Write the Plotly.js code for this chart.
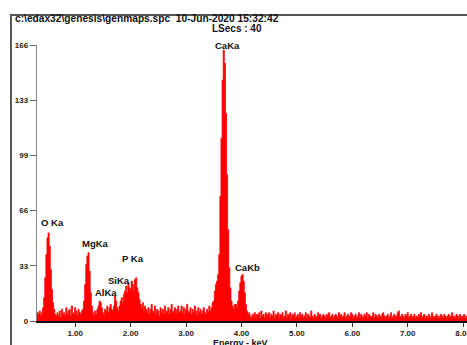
<!DOCTYPE html>
<html>
<head>
<meta charset="utf-8">
<script src="https://cdn.plot.ly/plotly-3.0.1.min.js"></script>
<style>html,body{margin:0;padding:0;background:#fff;}#chart{width:467px;height:345px;}</style>
</head>
<body>
<div id="chart"></div>
<script>
// Energy channels: start 0.30 keV, step 0.02 keV
const energyStart = 0.30;
const energyStep = 0.02;
// Counts per channel
const counts = [
  3,5,4,6,3,5,8,14,26,40,
  50,53,45,31,19,11,7,4,3,5,
  3,6,2,7,4,5,3,8,4,6,
  7,3,9,5,4,8,6,3,7,5,
  4,6,7,12,22,34,39,41,30,17,
  9,5,3,6,4,7,9,12,11,8,
  5,4,7,6,9,5,8,10,7,6,
  9,15,12,8,6,9,12,14,11,16,
  18,21,17,23,20,19,24,22,18,25,
  26,20,17,13,10,8,11,6,9,7,
  5,8,4,7,10,6,5,9,4,7,
  6,3,8,5,7,4,9,6,5,8,
  4,7,10,5,6,8,4,7,9,5,
  6,9,5,8,4,7,10,6,5,8,
  4,7,5,9,6,3,8,5,7,4,
  6,8,5,4,7,5,9,6,8,11,
  12,18,22,24,28,40,75,110,145,163,
  155,125,88,55,32,20,12,9,7,10,
  10,8,12,18,23,27,28,24,17,10,
  6,4,5,3,2,4,3,5,2,4,
  3,5,2,6,3,4,2,5,3,4,
  5,2,4,3,6,2,4,3,5,2,
  4,3,5,2,3,6,2,4,3,5,
  2,4,3,5,2,3,4,2,5,3,
  4,2,3,5,2,4,3,2,6,3,
  2,4,3,2,5,3,4,2,3,4,
  3,2,4,3,5,2,3,4,2,3,
  4,3,2,5,3,4,2,3,5,2,
  3,4,2,3,5,4,2,3,4,2,
  3,5,2,4,3,2,4,3,5,2,
  4,3,2,3,5,2,4,3,2,4,
  3,2,4,5,3,2,3,4,2,3,
  5,2,3,4,2,3,5,6,3,2,
  4,3,2,4,3,5,2,3,4,2,
  3,4,2,3,2,4,3,5,2,3,
  4,2,3,2,4,3,2,5,3,2,
  3,4,2,3,2,4,3,2,4,3,
  2,3,4,2,3,5,2,3,2,4,
  3,2,4,3,2,3,4,2,3,2,
  3
];
const yTickVals = [0, 33.2, 66.4, 99.6, 132.8, 166];
const yTickText = ["0", "33", "66", "99", "133", "166"];
const xTickVals = [1, 2, 3, 4, 5, 6, 7, 8];
const xTickText = ["1.00", "2.00", "3.00", "4.00", "5.00", "6.00", "7.00", "8.00"];
const peakLabels = ["O Ka", "MgKa", "P Ka", "SiKa", "AlKa", "CaKa", "CaKb"];
const headerText = "c:\\edax32\\genesis\\genmaps.spc  10-Jun-2020 15:32:42";
const lsecsText = "LSecs : 40";

const labelPos = [[0.585, 59.5], [1.36, 46.9], [2.05, 37.3], [1.79, 24.1], [1.56, 17.4], [3.74, 166], [4.10, 31.9]];

const FONT = "Liberation Sans, Arial, sans-serif";
const annots = peakLabels.map((t, i) => ({
  x: labelPos[i][0], y: labelPos[i][1], xref: "x", yref: "y",
  text: t, showarrow: false, xanchor: "center", yanchor: "middle",
  font: {family: FONT, size: 9.5, color: "#111", weight: "bold"}
}));
annots.push({x: -0.0558, y: 1.0978, xref: "paper", yref: "paper", text: headerText, showarrow: false,
  xanchor: "left", yanchor: "middle", font: {family: FONT, size: 10.2, color: "#111", weight: "bold"}});
annots.push({x: 0.402, y: 1.058, xref: "paper", yref: "paper", text: lsecsText, showarrow: false,
  xanchor: "left", yanchor: "middle", font: {family: FONT, size: 10, color: "#111", weight: "bold"}});
annots.push({x: 0.474, y: -0.079, xref: "paper", yref: "paper", text: "Energy - keV", showarrow: false,
  xanchor: "center", yanchor: "middle", font: {family: FONT, size: 9, color: "#111", weight: "bold"}});

const trace = {
  type: "scatter", mode: "lines",
  x0: energyStart, dx: energyStep, y: counts,
  line: {color: "#ff0000", width: 0.8, shape: "hvh"},
  fill: "tozeroy", fillcolor: "#ff0000",
  hoverinfo: "skip"
};

const layout = {
  width: 467, height: 345,
  margin: {l: 37, r: 0, t: 45, b: 24, pad: 0},
  paper_bgcolor: "#fff", plot_bgcolor: "#fff",
  showlegend: false,
  xaxis: {
    range: [0.31, 8.07], showgrid: false, zeroline: false,
    showline: true, linecolor: "#111", linewidth: 1.5,
    ticks: "outside", ticklen: 4, tickcolor: "#333", tickwidth: 1,
    tickvals: xTickVals, ticktext: xTickText, ticklabeloverflow: "allow",
    tickfont: {family: FONT, size: 8, color: "#222", weight: "bold"}
  },
  yaxis: {
    range: [0, 166], showgrid: false, zeroline: false,
    showline: true, linecolor: "#888", linewidth: 1.2,
    ticks: "outside", ticklen: 6, tickcolor: "#666", tickwidth: 1,
    tickvals: yTickVals, ticktext: yTickText,
    tickfont: {family: FONT, size: 8, color: "#222", weight: "bold"}
  },
  annotations: annots,
  shapes: [
    {type: "line", xref: "paper", yref: "paper", x0: -0.0605, x1: -0.0605, y0: 1.1087, y1: -0.09, line: {color: "#444", width: 1.8}},
    {type: "line", xref: "paper", yref: "paper", x0: -0.063, x1: 1.0, y0: 1.1087, y1: 1.1087, line: {color: "#555", width: 1.8}}
  ]
};

Plotly.newPlot("chart", [trace], layout, {displayModeBar: false, staticPlot: true});
</script>
</body>
</html>
